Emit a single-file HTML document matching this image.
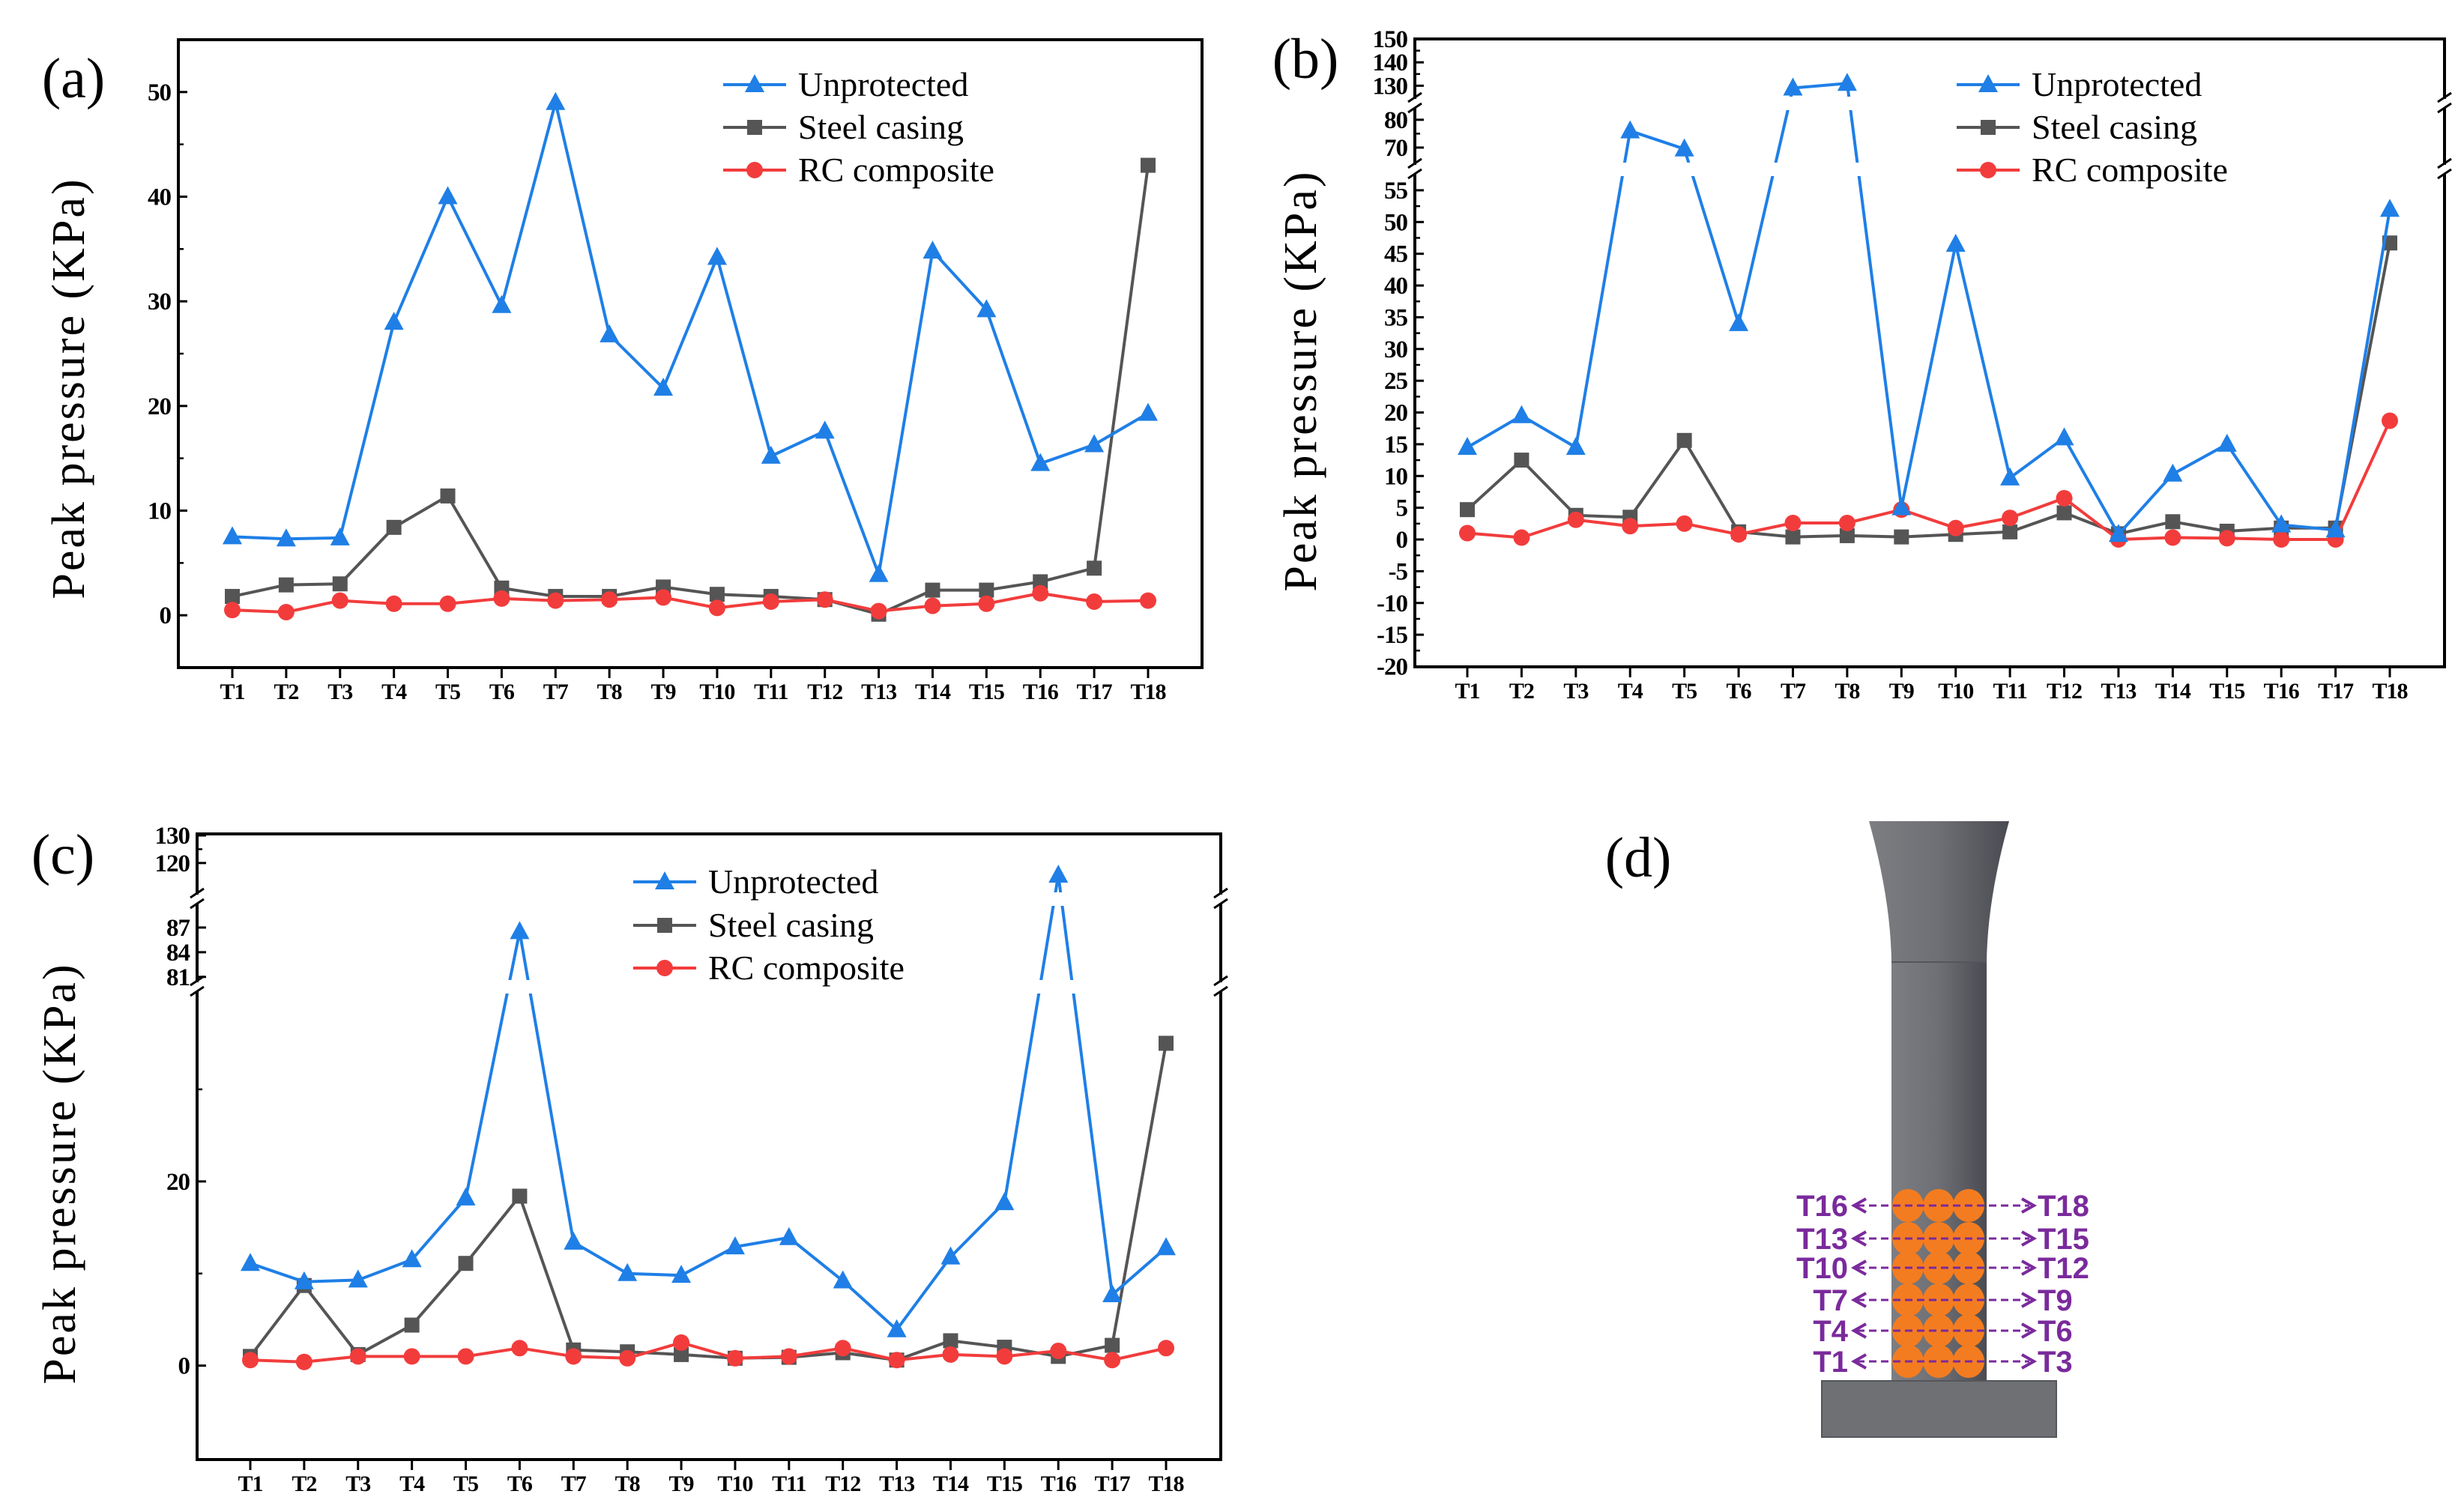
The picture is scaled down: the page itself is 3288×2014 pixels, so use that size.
<!DOCTYPE html>
<html>
<head>
<meta charset="utf-8">
<style>
  html, body { margin: 0; padding: 0; background: #fff; }
  svg { display: block; }
  text { font-family: "Liberation Serif", serif; }
</style>
</head>
<body>
<svg id="fig" xmlns="http://www.w3.org/2000/svg" width="3288" height="2014" viewBox="0 0 3288 2014">
  <rect x="0" y="0" width="3288" height="2014" fill="#fff"/>
</svg>
<script>
const categories = ["T1","T2","T3","T4","T5","T6","T7","T8","T9","T10","T11","T12","T13","T14","T15","T16","T17","T18"];

const aUnprotected = [7.5,7.3,7.4,28,40,29.6,49,26.8,21.7,34.2,15.2,17.6,3.9,34.8,29.2,14.5,16.3,19.3];
const aSteel = [1.8,2.9,3.0,8.4,11.4,2.6,1.8,1.8,2.7,2.0,1.8,1.5,0.1,2.4,2.4,3.2,4.5,43];
const aRC = [0.5,0.3,1.4,1.1,1.1,1.6,1.4,1.5,1.7,0.7,1.3,1.5,0.4,0.9,1.1,2.1,1.3,1.4];
const aTicks = [0,10,20,30,40,50];

const bUnprotected = [14.5,19.5,14.5,76,69.5,34,129,131,5,46.5,9.7,16,0.8,10.3,15,2.3,1.5,52];
const bSteel = [4.7,12.5,3.8,3.5,15.6,1.2,0.4,0.6,0.4,0.8,1.2,4.2,0.9,2.8,1.3,1.8,1.8,46.7];
const bRC = [1.0,0.3,3.1,2.1,2.5,0.8,2.6,2.6,4.7,1.8,3.4,6.5,0.0,0.3,0.2,0.0,0.0,18.7];
const bTicks = [-20,-15,-10,-5,0,5,10,15,20,25,30,35,40,45,50,55,70,80,130,140,150];

const cUnprotected = [11.1,9.1,9.3,11.5,18.2,86.5,13.4,10,9.8,12.9,13.9,9.2,3.9,11.8,17.7,115.6,7.7,12.8];
const cSteel = [1.0,8.7,1.2,4.4,11.1,18.4,1.7,1.5,1.2,0.8,0.9,1.4,0.6,2.7,2.0,1.0,2.2,35];
const cRC = [0.6,0.4,1.0,1.0,1.0,1.9,1.0,0.8,2.5,0.8,1.0,1.9,0.6,1.2,1.0,1.6,0.6,1.9];
const cTicks = [0,20,81,84,87,120,130];

const legendLabels = ["Unprotected","Steel casing","RC composite"];

const NS = "http://www.w3.org/2000/svg";
const svg = document.getElementById("fig");
const BLUE = "#1f7fe6", GRAY = "#555555", RED = "#f23c3c";

function mk(tag, attrs, parent) {
  const e = document.createElementNS(NS, tag);
  for (const k in attrs) e.setAttribute(k, attrs[k]);
  (parent || svg).appendChild(e);
  return e;
}

function makeScale(segs) {
  return function (v) {
    for (const s of segs) {
      if (v >= s.v0 && v <= s.v1) return s.y0 + (v - s.v0) / (s.v1 - s.v0) * (s.y1 - s.y0);
    }
    const s = v < segs[0].v0 ? segs[0] : segs[segs.length - 1];
    return s.y0 + (v - s.v0) / (s.v1 - s.v0) * (s.y1 - s.y0);
  };
}

function marker(g, kind, x, y, color) {
  let e;
  if (kind === "tri") {
    e = mk("polygon", { points: `${x},${y-14} ${x-13},${y+10} ${x+13},${y+10}`, fill: color }, g);
  } else if (kind === "sq") {
    e = mk("rect", { x: x-10, y: y-10, width: 20, height: 20, fill: color }, g);
  } else {
    e = mk("circle", { cx: x, cy: y, r: 11, fill: color }, g);
  }
  return e;
}

function panel(p) {
  const g = mk("g", {});
  
  
  const y = makeScale(p.segs);
  const xs = i => p.x1 + i * (p.x18 - p.x1) / (categories.length - 1);

  const box = mk("rect", { x: p.L, y: p.T, width: p.R - p.L, height: p.B - p.T, fill: "none", stroke: "#000", "stroke-width": 4 }, g);
  
  

  p.ticks.forEach(t => {
    const yy = y(t);
    const tk = mk("line", { x1: p.L, x2: p.L + 12, y1: yy, y2: yy, stroke: "#000", "stroke-width": 3 }, g);
    
    
    const lb = mk("text", { x: p.L - 10, y: yy + 11, "text-anchor": "end", "font-size": 33, "font-weight": "bold", "letter-spacing": "-1" }, g);
    lb.textContent = t;
    
    
  });
  (p.minor || []).forEach(t => {
    const yy = y(t);
    const tk = mk("line", { x1: p.L, x2: p.L + 7, y1: yy, y2: yy, stroke: "#000", "stroke-width": 2.5 }, g);
    
    
  });

  categories.forEach((c, i) => {
    const xx = xs(i);
    const tk = mk("line", { x1: xx, x2: xx, y1: p.B, y2: p.B + 14, stroke: "#000", "stroke-width": 3 }, g);
    
    
    const lb = mk("text", { x: xx, y: p.B + 42, "text-anchor": "middle", "font-size": 30, "font-weight": "bold", "letter-spacing": "-1" }, g);
    lb.textContent = c;
    
    
  });

  const series = [
    { d: p.steel, c: GRAY, m: "sq", n: "steel-casing" },
    { d: p.rc, c: RED, m: "dot", n: "rc-composite" },
    { d: p.unp, c: BLUE, m: "tri", n: "unprotected" }
  ];
  series.forEach(s => {
    const pts = s.d.map((v, i) => `${xs(i)},${y(v)}`).join(" ");
    const pl = mk("polyline", { points: pts, fill: "none", stroke: s.c, "stroke-width": 4 }, g);
    
    
    s.d.forEach((v, i) => {
      const m = marker(g, s.m, xs(i), y(v), s.c);
      
      
    });
  });

  (p.breaks || []).forEach(b => {
    const r = mk("rect", { x: p.L + 3, y: b - 9, width: p.R - p.L - 6, height: 18, fill: "#fff" }, g);
    
    
    [p.L, p.R].forEach(ax => {
      const w = mk("rect", { x: ax - 10, y: b - 6, width: 20, height: 12, fill: "#fff" }, g);
      
      
      const l1 = mk("line", { x1: ax - 9, y1: b - 2, x2: ax + 9, y2: b - 14, stroke: "#000", "stroke-width": 3 }, g);
      
      
      const l2 = mk("line", { x1: ax - 9, y1: b + 12, x2: ax + 9, y2: b + 0, stroke: "#000", "stroke-width": 3 }, g);
      
      
    });
  });

  const cols = [BLUE, GRAY, RED], ms = ["tri", "sq", "dot"], ln = ["unprotected", "steel-casing", "rc-composite"];
  legendLabels.forEach((lab, i) => {
    const ly = p.legY[i];
    const l = mk("line", { x1: p.legX, x2: p.legX + 84, y1: ly, y2: ly, stroke: cols[i], "stroke-width": 4 }, g);
    
    
    const m = marker(g, ms[i], p.legX + 42, ly, cols[i]);
    
    
    const t = mk("text", { x: p.legX + 100, y: ly + 15, "font-size": 46 }, g);
    t.textContent = lab;
    
    
  });

  const yt = mk("text", { x: p.ytX, y: p.ytY, "text-anchor": "middle", "font-size": 62, "letter-spacing": "3", transform: `rotate(-90 ${p.ytX} ${p.ytY})` }, g);
  yt.textContent = "Peak pressure (KPa)";
  
  

  const pl = mk("text", { x: p.lx, y: p.ly, "text-anchor": "middle", "font-size": 76 }, g);
  pl.textContent = p.letter;
  
  
}

panel({
  name: "chart-a", letter: "(a)", lx: 98, ly: 130,
  L: 238, R: 1604, T: 53, B: 891, x1: 310, x18: 1532,
  segs: [{ v0: -5, v1: 55, y0: 891, y1: 53 }],
  ticks: aTicks, minor: [-5,5,15,25,35,45],
  unp: aUnprotected, steel: aSteel, rc: aRC,
  legX: 965, legY: [113, 170, 227],
  ytX: 112, ytY: 518
});

panel({
  name: "chart-b", letter: "(b)", lx: 1742, ly: 104,
  L: 1888, R: 3262, T: 52, B: 890, x1: 1958, x18: 3189,
  segs: [
    { v0: -20, v1: 57, y0: 889.5, y1: 237 },
    { v0: 65, v1: 84, y0: 215.5, y1: 145 },
    { v0: 125, v1: 150, y0: 130, y1: 52 }
  ],
  ticks: bTicks, minor: [-17.5,-12.5,-7.5,-2.5,2.5,7.5,12.5,17.5,22.5,27.5,32.5,37.5,42.5,47.5,52.5,75,135,145],
  unp: bUnprotected, steel: bSteel, rc: bRC,
  breaks: [138, 226],
  legX: 2611, legY: [113, 170, 227],
  ytX: 1756, ytY: 508
});

panel({
  name: "chart-c", letter: "(c)", lx: 84, ly: 1166,
  L: 263, R: 1629, T: 1113, B: 1948, x1: 334, x18: 1556,
  segs: [
    { v0: -10.2, v1: 41, y0: 1948, y1: 1318.7 },
    { v0: 79.8, v1: 90, y0: 1317, y1: 1205 },
    { v0: 108, v1: 130, y0: 1196, y1: 1115 }
  ],
  ticks: cTicks, minor: [10,30,125],
  unp: cUnprotected, steel: cSteel, rc: cRC,
  breaks: [1200, 1317],
  legX: 845, legY: [1177, 1235, 1292],
  ytX: 100, ytY: 1566
});

(function () {
  const g = mk("g", {});
  
  
  const defs = mk("defs", {}, g);
  const lg = mk("linearGradient", { id: "colgrad", x1: "0", x2: "1", y1: "0", y2: "0" }, defs);
  mk("stop", { offset: "0", "stop-color": "#7d7e82" }, lg);
  mk("stop", { offset: "0.5", "stop-color": "#6e6f74" }, lg);
  mk("stop", { offset: "1", "stop-color": "#4a4b52" }, lg);

  const lab = mk("text", { x: 2186, y: 1170, "text-anchor": "middle", "font-size": 76 }, g);
  lab.textContent = "(d)";
  
  

  const cap = mk("path", { d: "M2494,1096 L2681,1096 Q2652,1200 2651,1284 L2524,1284 Q2523,1200 2494,1096 Z", fill: "url(#colgrad)" }, g);
  
  
  const shaft = mk("rect", { x: 2524, y: 1284, width: 127, height: 562, fill: "url(#colgrad)" }, g);
  
  
  mk("line", { x1: 2524, x2: 2651, y1: 1284, y2: 1284, stroke: "#55565b", "stroke-width": 2 }, g);
  const base = mk("rect", { x: 2431, y: 1843, width: 313, height: 75, fill: "#6f7074", stroke: "#55565b", "stroke-width": 2 }, g);
  
  

  const rows = [1817, 1776, 1735, 1692, 1653, 1609];
  const colsX = [2546, 2587, 2627];
  rows.forEach(ry => colsX.forEach(cx => {
    const e = mk("ellipse", { cx: cx, cy: ry, rx: 21, ry: 22, fill: "#f47c20" }, g);
    
    
  }));

  const leftL = ["T1","T4","T7","T10","T13","T16"];
  const rightL = ["T3","T6","T9","T12","T15","T18"];
  const P = "#7a2a9c";
  rows.forEach((ry, i) => {
    const a = mk("line", { x1: 2478, x2: 2708, y1: ry, y2: ry, stroke: P, "stroke-width": 3, "stroke-dasharray": "10 6" }, g);
    
    
    mk("polyline", { points: `${2490},${ry-9} ${2474},${ry} ${2490},${ry+9}`, fill: "none", stroke: P, "stroke-width": 4 }, g);
    mk("polyline", { points: `${2698},${ry-9} ${2714},${ry} ${2698},${ry+9}`, fill: "none", stroke: P, "stroke-width": 4 }, g);
    const tl = mk("text", { x: 2466, y: ry + 14, "text-anchor": "end", "font-size": 40, "font-weight": "bold", fill: P, style: "font-family:'Liberation Sans',sans-serif" }, g);
    tl.textContent = leftL[i];
    
    
    const tr = mk("text", { x: 2719, y: ry + 14, "text-anchor": "start", "font-size": 40, "font-weight": "bold", fill: P, style: "font-family:'Liberation Sans',sans-serif" }, g);
    tr.textContent = rightL[i];
    
    
  });
})();
</script>
</body>
</html>
